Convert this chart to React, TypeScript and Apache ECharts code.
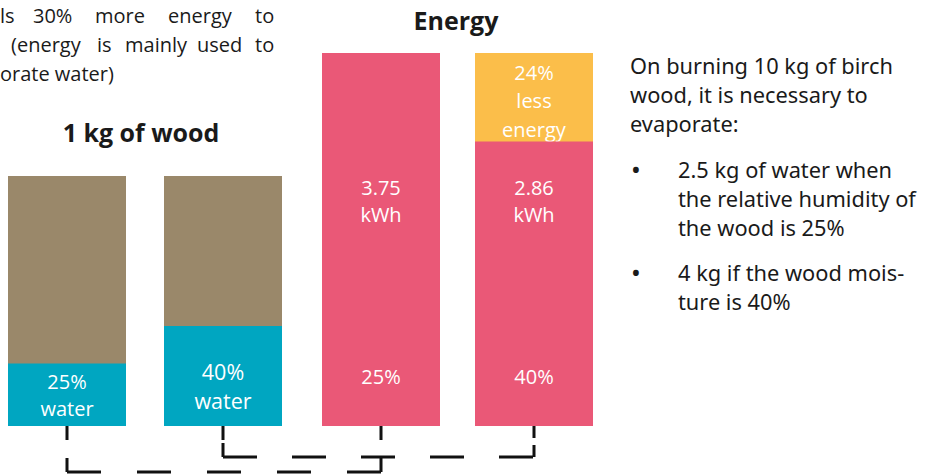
import React, { useEffect, useRef } from "react";
import * as echarts from "echarts";

// ---- data ----
const barX = [0, 1];
const waterPct = [25, 40];
const dryPct = [75, 60];
const waterLabels = ["25%\nwater", "40%\nwater"];
const energyKwh = [3.75, 2.86];
const energyLost = [0, 0.89];
const lostLabel = "24%\nless\nenergy";
const moistureLabels = ["25%", "40%"];

const introLines = [
  ["ls", "30%", "more", "energy", "to"],
  ["(energy", "is", "mainly", "used", "to"],
  ["orate water)"],
];
const noteHead = ["On burning 10 kg of birch", "wood, it is necessary to", "evaporate:"];
const noteBullets = [
  ["2.5 kg of water when", "the relative humidity of", "the wood is 25%"],
  ["4 kg if the wood mois-", "ture is 40%"],
];

const C = { wood: "#9A886A", water: "#00A6C1", energy: "#EA5877", lost: "#FBBE4A", text: "#1a1a1a" };
const FONT = "'Open Sans', sans-serif";

export default function App() {
  const ref = useRef<HTMLDivElement>(null);
  useEffect(() => {
    const chart = echarts.init(ref.current!, null, { renderer: "svg" });
    const common = { type: "bar", barWidth: 118, barGap: "-100%", clip: false };
    const option: any = {
      animation: false,
      backgroundColor: "#fff",
      grid: [
        { left: 67, top: 176, width: 156, height: 250 },
        { left: 381, top: 53, width: 153, height: 373 },
      ],
      xAxis: [
        { gridIndex: 0, type: "value", min: 0, max: 1, show: false },
        { gridIndex: 1, type: "value", min: 0, max: 1, show: false },
      ],
      yAxis: [
        { gridIndex: 0, type: "value", min: 0, max: 100, show: false },
        { gridIndex: 1, type: "value", min: 0, max: 3.75, show: false },
      ],
      series: [
        // whole piece of wood (water + dry matter), drawn first
        {
          ...common, xAxisIndex: 0, yAxisIndex: 0, z: 1,
          itemStyle: { color: C.wood },
          data: barX.map((x, i) => [x, waterPct[i] + dryPct[i]]),
        },
        // water share, drawn on top
        {
          ...common, xAxisIndex: 0, yAxisIndex: 0, z: 2,
          itemStyle: { color: C.water },
          data: barX.map((x, i) => ({
            value: [x, waterPct[i]],
            label: i === 0
              ? { fontSize: 20, lineHeight: 27, offset: [0, 0] }
              : { fontSize: 21.5, lineHeight: 28.5, offset: [0, 10] },
          })),
          label: {
            show: true, position: "inside", color: "#fff", fontFamily: FONT,
            formatter: (p: any) => waterLabels[p.dataIndex],
          },
        },
        // total energy incl. the lost part, drawn first
        {
          ...common, xAxisIndex: 1, yAxisIndex: 1, z: 1,
          itemStyle: { color: C.lost },
          data: barX.map((x, i) => ({ value: [x, energyKwh[i] + energyLost[i]], label: { show: energyLost[i] > 0 } })),
          label: {
            show: true, position: "insideTop", distance: 5, color: "#fff", fontFamily: FONT,
            fontSize: 20, lineHeight: 28.5, formatter: () => lostLabel,
          },
        },
        // usable energy
        {
          ...common, xAxisIndex: 1, yAxisIndex: 1, z: 2,
          itemStyle: { color: C.energy },
          data: barX.map((x, i) => [x, energyKwh[i]]),
          label: {
            show: true, position: "insideBottom", distance: 36, color: "#fff", fontFamily: FONT,
            fontSize: 20, lineHeight: 27,
            formatter: (p: any) => `${energyKwh[p.dataIndex]}\nkWh\n\n\n\n\n\n${moistureLabels[p.dataIndex]}`,
          },
        },
      ],
    };
    chart.setOption(option);

    const px = (g: number, x: number) => chart.convertToPixel({ gridIndex: g } as any, [x, 0]) as number[];
    const b1 = px(0, barX[0]);
    const b2 = px(0, barX[1]);
    const b3 = px(1, barX[0]);
    const b4 = px(1, barX[1]);
    const lineStyle = { stroke: "#111", lineWidth: 3 };
    const seg = (x1: number, y1: number, x2: number, y2: number, dash: number[]) => ({
      type: "line", shape: { x1, y1, x2, y2 }, style: { ...lineStyle, lineDash: dash },
    });
    const yA = b1[1] + 46;
    const yB = b2[1] + 31;
    const vA = yA - b1[1];
    const vB = yB - b2[1];
    const connectors = [
      seg(b1[0], b1[1], b1[0], yA, [14, vA - 28, 14]),
      seg(b1[0], yA, b3[0], yA, [34, 36]),
      seg(b3[0], b3[1], b3[0], yA, [14, vA - 28, 14]),
      seg(b2[0], b2[1], b2[0], yB, [14, vB - 28, 14]),
      seg(b2[0], yB, b4[0], yB, [34, 35]),
      seg(b4[0], b4[1], b4[0], yB, [12, vB - 24, 12]),
    ];

    const txt = (t: string, x: number, y: number, font: any, align = "left") => ({
      type: "text", x, y,
      style: { text: t, fill: C.text, align, verticalAlign: "middle", ...font },
    });
    const introX = [
      [0, 33, 95, 168, 255],
      [11, 97, 125, 197, 255],
      [0],
    ];
    const introY = [15, 44, 73];
    const introFont = { fontFamily: FONT, fontSize: 20 };
    const intro: any[] = [];
    introLines.forEach((ws, li) => ws.forEach((w, wi) => intro.push(txt(w, introX[li][wi], introY[li], introFont))));

    const noteFont = { fontFamily: "'Noto Sans', sans-serif", fontSize: 21.8 };
    const note: any[] = [];
    const headY = [65, 94, 123];
    noteHead.forEach((l, i) => note.push(txt(l, 630, headY[i], noteFont)));
    const bulletY = [[169, 198, 227], [272, 301]];
    noteBullets.forEach((lines, bi) => {
      note.push(txt("•", 631, bulletY[bi][0], { ...noteFont, fontSize: 26 }));
      lines.forEach((l, i) => note.push(txt(l, 678, bulletY[bi][i], noteFont)));
    });

    const titles = [
      txt("1 kg of wood", 141, 132, { fontFamily: FONT, fontSize: 25, fontWeight: "bold" }, "center"),
      txt("Energy", 456, 20, { fontFamily: FONT, fontSize: 25, fontWeight: "bold" }, "center"),
    ];

    chart.setOption({ graphic: [...titles, ...intro, ...note, ...connectors] });
    return () => chart.dispose();
  }, []);
  return <div ref={ref} style={{ position: "fixed", left: 0, top: 0, width: 930, height: 476 }} />;
}
